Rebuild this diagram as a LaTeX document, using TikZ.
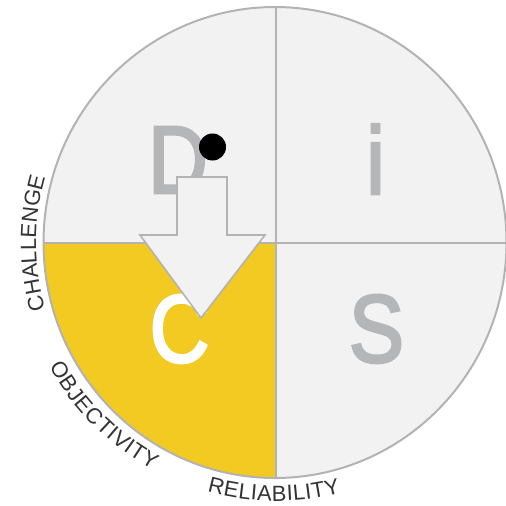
\documentclass[tikz,border=0pt]{standalone}
\usepackage{fontspec}
\setmainfont{Liberation Sans}
\newfontfamily\heavyfont[FakeBold=3]{Liberation Sans}
\usetikzlibrary{decorations.text}
\definecolor{ringgray}{HTML}{B3B3B3}
\definecolor{panel}{HTML}{F2F2F2}
\definecolor{cyellow}{HTML}{F2CA22}
\definecolor{lettergray}{HTML}{B5B6B8}
\definecolor{labelgray}{HTML}{333333}
\begin{document}
\begin{tikzpicture}[x=1pt,y=1pt,
  bigletter/.style={font=\heavyfont\fontsize{96}{96}\selectfont, inner sep=0pt, anchor=base, xscale=0.86},
  ringlabel/.style={decorate, decoration={text along path, text align=fit to path, text color=labelgray, text={|\fontsize{22}{22}\selectfont|#1}}},
  ringshape/.style={x radius=231.5, y radius=235.5}]
\useasboundingbox (0,0) rectangle (506,-506);
\coordinate (ctr) at (275,-242.5);
\coordinate (lab) at (276,-243);
% panels
\fill[panel] (ctr) ellipse [ringshape];
\begin{scope}
  \clip (0,-243) rectangle (276,-506);
  \fill[cyellow] (ctr) ellipse [ringshape];
\end{scope}
\begin{scope}
  \clip (ctr) ellipse [ringshape];
  \draw[ringgray, line width=2.7] (276,0) -- (276,-506);
  \draw[ringgray, line width=2.7] (0,-243) -- (506,-243);
\end{scope}
\draw[ringgray, line width=2] (ctr) ellipse [ringshape];
% letters
\node[bigletter, text=lettergray] (d) at (178,-193) {D};
\node[bigletter, text=lettergray] (i) at (375.5,-194) {i};
\node[bigletter, text=white] (c) at (179.5,-362) {C};
\node[bigletter, text=lettergray] (s) at (376.5,-362) {S};
% dot
\fill[black] (212.5,-147) circle [radius=13.5];
% arrow
\draw[ringgray, fill=panel, line width=1.6, line join=miter]
  (177,-177) -- (227,-177) -- (227,-235) -- (265,-235) -- (201,-318)
  -- (140,-235) -- (177,-235) -- cycle;
% ring labels
\path[ringlabel=CHALLENGE] (lab) ++(196:240) arc[start angle=196, end angle=164, radius=240];
\path[ringlabel=OBJECTIVITY] (lab) ++(208.5:258) arc[start angle=208.5, end angle=241.5, radius=258];
\path[ringlabel=RELIABILITY] (lab) ++(254.5:258) arc[start angle=254.5, end angle=284.5, radius=258];
\end{tikzpicture}
\end{document}
